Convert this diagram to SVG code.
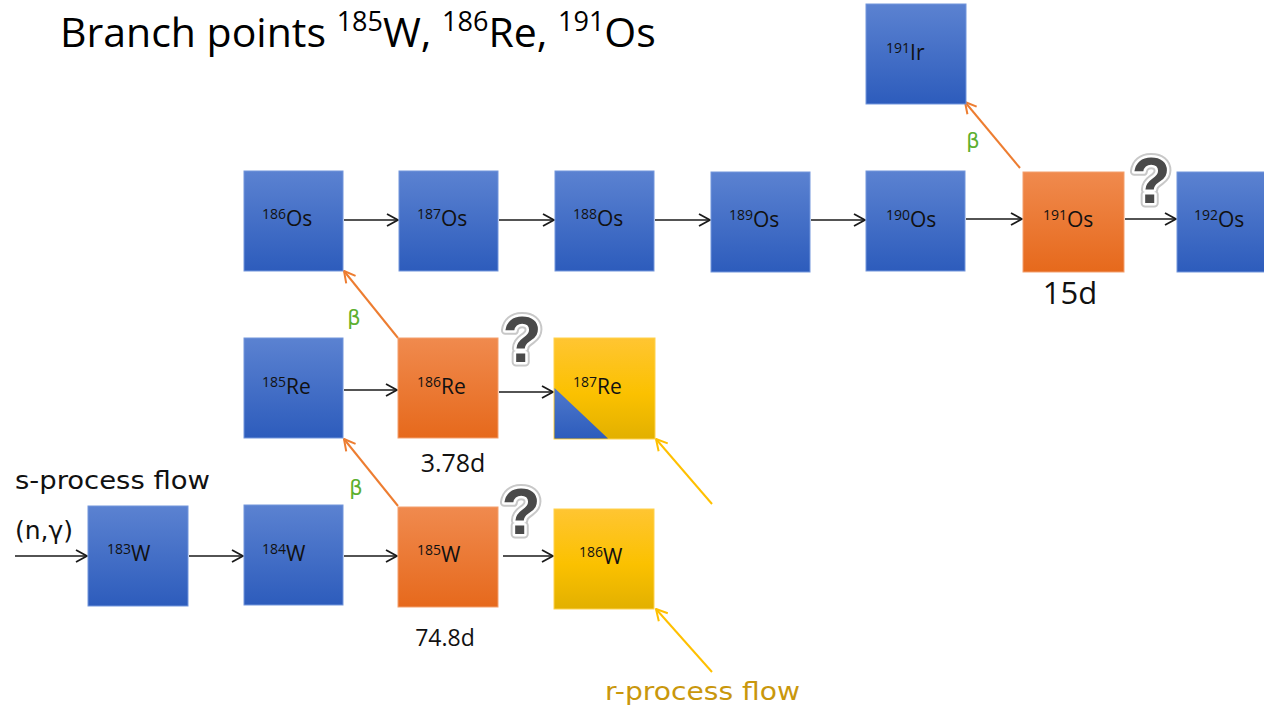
<svg xmlns="http://www.w3.org/2000/svg" width="1264" height="712" viewBox="0 0 1264 712">
  <defs>
    <linearGradient id="gBlue" x1="0" y1="0" x2="0" y2="1">
      <stop offset="0" stop-color="#5b82d1"/>
      <stop offset="1" stop-color="#2d5cbc"/>
    </linearGradient>
    <linearGradient id="gOrange" x1="0" y1="0" x2="0" y2="1">
      <stop offset="0" stop-color="#f08a4e"/>
      <stop offset="1" stop-color="#e6691c"/>
    </linearGradient>
    <linearGradient id="gYellow" x1="0" y1="0" x2="0" y2="1">
      <stop offset="0" stop-color="#ffc532"/>
      <stop offset="0.55" stop-color="#fbc100"/>
      <stop offset="1" stop-color="#e2b000"/>
    </linearGradient>
    <linearGradient id="gTri" x1="0" y1="0" x2="0" y2="1">
      <stop offset="0" stop-color="#4f79cc"/>
      <stop offset="1" stop-color="#2d5cbc"/>
    </linearGradient>
    <marker id="hBlack" markerUnits="userSpaceOnUse" markerWidth="16" markerHeight="16" refX="13" refY="8" orient="auto">
      <path d="M2,2 L13,8 L2,14" fill="none" stroke="#1a1a1a" stroke-width="1.8" stroke-linejoin="round"/>
    </marker>
    <marker id="hOrange" markerUnits="userSpaceOnUse" markerWidth="16" markerHeight="16" refX="13" refY="8" orient="auto">
      <path d="M2,2 L13,8 L2,14" fill="none" stroke="#ed7d31" stroke-width="2" stroke-linejoin="round"/>
    </marker>
    <marker id="hYellow" markerUnits="userSpaceOnUse" markerWidth="16" markerHeight="16" refX="13" refY="8" orient="auto">
      <path d="M2,2 L13,8 L2,14" fill="none" stroke="#ffc000" stroke-width="2" stroke-linejoin="round"/>
    </marker>
  </defs>
  <style>
    .blue { fill: url(#gBlue); stroke: #7396dc; stroke-width: 1; }
    .orange { fill: url(#gOrange); stroke: #f3a06e; stroke-width: 1; }
    .yellow { fill: url(#gYellow); stroke: #ffd24d; stroke-width: 1; }
    .lbl { font-family: "Open Sans", "Liberation Sans", sans-serif; font-size: 21px; fill: #111; }
    .lbl tspan.m { font-size: 14px; }
    .flow { stroke: #1a1a1a; stroke-width: 1.6; fill: none; marker-end: url(#hBlack); }
    .beta { stroke: #ed7d31; stroke-width: 2; fill: none; marker-end: url(#hOrange); }
    .rflow { stroke: #ffc000; stroke-width: 2; fill: none; marker-end: url(#hYellow); }
    .b { font-family: "DejaVu Sans", sans-serif; font-size: 21px; fill: #5caf2e; text-anchor: middle; }
    .half { font-family: "Open Sans", "Liberation Sans", sans-serif; fill: #111; text-anchor: middle; }
    .hand { font-family: "DejaVu Sans", sans-serif; font-size: 25px; }
    .q { font-family: "Liberation Sans", sans-serif; font-weight: bold; font-size: 64px; text-anchor: middle; }
    .qh { fill: none; stroke: #c8c8c8; stroke-width: 9; stroke-linejoin: round; }
    .qw { fill: none; stroke: #ffffff; stroke-width: 5; stroke-linejoin: round; }
    .qf { fill: #4a4a4a; }
  </style>

  <!-- heading -->
  <text x="60" y="47" font-family="'Open Sans', 'Liberation Sans', sans-serif" font-size="41" fill="#000">Branch points <tspan font-size="27" dy="-16">185</tspan><tspan dy="16">W, </tspan><tspan font-size="27" dy="-16">186</tspan><tspan dy="16">Re, </tspan><tspan font-size="27" dy="-16">191</tspan><tspan dy="16">Os</tspan></text>

  <!-- connectors -->
  <g id="connectors">
    <!-- (n,gamma) captures along Os -->
    <path class="flow" d="M344,220 L398,220"/>
    <path class="flow" d="M499,220 L554,220"/>
    <path class="flow" d="M655,220 L710,220"/>
    <path class="flow" d="M811,220 L865,220"/>
    <path class="flow" d="M966,219 L1022,219"/>
    <path class="flow" d="M1125,219 L1176,219"/>
    <!-- Re row -->
    <path class="flow" d="M344,390 L397,390"/>
    <path class="flow" d="M499,392 L553,392"/>
    <!-- W row -->
    <path class="flow" d="M15,556 L87,556"/>
    <path class="flow" d="M189,556 L243,556"/>
    <path class="flow" d="M344,556 L397,556"/>
    <path class="flow" d="M503,556 L553,556"/>
    <!-- beta decays -->
    <path class="beta" d="M398,338 L344,271"/>
    <path class="beta" d="M398,506 L344,439"/>
    <path class="beta" d="M1020,168 L965,102"/>
    <!-- r-process feeding -->
    <path class="rflow" d="M712,504 L656,439"/>
    <path class="rflow" d="M712,672 L656,609"/>
  </g>

  <!-- Os chain -->
  <g id="os186"><rect class="blue" x="244" y="171" width="99" height="100"/><text class="lbl" x="262" y="226"><tspan class="m" dy="-7">186</tspan><tspan dy="7">Os</tspan></text></g>
  <g id="os187"><rect class="blue" x="399" y="171" width="99" height="100"/><text class="lbl" x="417" y="226"><tspan class="m" dy="-7">187</tspan><tspan dy="7">Os</tspan></text></g>
  <g id="os188"><rect class="blue" x="555" y="171" width="99" height="100"/><text class="lbl" x="573" y="226"><tspan class="m" dy="-7">188</tspan><tspan dy="7">Os</tspan></text></g>
  <g id="os189"><rect class="blue" x="711" y="172" width="99" height="100"/><text class="lbl" x="729" y="227"><tspan class="m" dy="-7">189</tspan><tspan dy="7">Os</tspan></text></g>
  <g id="os190"><rect class="blue" x="866" y="171" width="99" height="100"/><text class="lbl" x="886" y="227"><tspan class="m" dy="-7">190</tspan><tspan dy="7">Os</tspan></text></g>
  <g id="os191"><rect class="orange" x="1023" y="172" width="101" height="100"/><text class="lbl" x="1043" y="227"><tspan class="m" dy="-7">191</tspan><tspan dy="7">Os</tspan></text></g>
  <g id="os192"><rect class="blue" x="1177" y="172" width="100" height="100"/><text class="lbl" x="1194" y="227"><tspan class="m" dy="-7">192</tspan><tspan dy="7">Os</tspan></text></g>
  <g id="ir191"><rect class="blue" x="866" y="4" width="100" height="100"/><text class="lbl" x="886" y="60"><tspan class="m" dy="-7">191</tspan><tspan dy="7">Ir</tspan></text></g>

  <!-- Re chain -->
  <g id="re185"><rect class="blue" x="244" y="338" width="99" height="100"/><text class="lbl" x="262" y="394"><tspan class="m" dy="-7">185</tspan><tspan dy="7">Re</tspan></text></g>
  <g id="re186"><rect class="orange" x="398" y="338" width="100" height="100"/><text class="lbl" x="417" y="394"><tspan class="m" dy="-7">186</tspan><tspan dy="7">Re</tspan></text></g>
  <g id="re187"><rect class="yellow" x="554" y="338" width="101" height="101"/><path d="M554.5,388 L554.5,438.5 L608,438.5 Z" fill="url(#gTri)"/><text class="lbl" x="573" y="394"><tspan class="m" dy="-7">187</tspan><tspan dy="7">Re</tspan></text></g>

  <!-- W chain -->
  <g id="w183"><rect class="blue" x="88" y="506" width="100" height="100"/><text class="lbl" x="107" y="561"><tspan class="m" dy="-7">183</tspan><tspan dy="7">W</tspan></text></g>
  <g id="w184"><rect class="blue" x="244" y="505" width="99" height="100"/><text class="lbl" x="262" y="561"><tspan class="m" dy="-7">184</tspan><tspan dy="7">W</tspan></text></g>
  <g id="w185"><rect class="orange" x="398" y="507" width="100" height="100"/><text class="lbl" x="417" y="562"><tspan class="m" dy="-7">185</tspan><tspan dy="7">W</tspan></text></g>
  <g id="w186"><rect class="yellow" x="554" y="509" width="100" height="100"/><text class="lbl" x="579" y="564"><tspan class="m" dy="-7">186</tspan><tspan dy="7">W</tspan></text></g>

  <!-- decay labels -->
  <text class="b" x="354" y="325">β</text>
  <text class="b" x="356" y="495">β</text>
  <text class="b" x="973" y="148">β</text>

  <!-- half-lives -->
  <text class="half" x="1070" y="304" font-size="31">15d</text>
  <text class="half" x="453" y="472" font-size="25">3.78d</text>
  <text class="half" x="445" y="646" font-size="23">74.8d</text>

  <!-- open questions -->
  <g id="q1"><text class="q qh" x="522" y="362">?</text><text class="q qw" x="522" y="362">?</text><text class="q qf" x="522" y="362">?</text></g>
  <g id="q2"><text class="q qh" x="521" y="534">?</text><text class="q qw" x="521" y="534">?</text><text class="q qf" x="521" y="534">?</text></g>
  <g id="q3"><text class="q qh" x="1151" y="203">?</text><text class="q qw" x="1151" y="203">?</text><text class="q qf" x="1151" y="203">?</text></g>

  <!-- process annotations -->
  <text class="hand" x="15" y="489" fill="#111" textLength="195" lengthAdjust="spacingAndGlyphs">s-process flow</text>
  <text class="hand" x="15" y="539" fill="#111" font-size="24">(n,γ)</text>
  <text class="hand" x="605" y="700" fill="#c9970c" textLength="195" lengthAdjust="spacingAndGlyphs">r-process flow</text>
</svg>
